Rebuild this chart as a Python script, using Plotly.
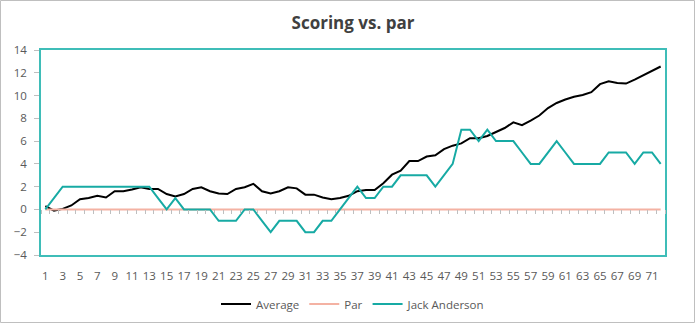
import plotly.graph_objects as go

holes = list(range(1, 73))
average = [0.3, -0.1, 0.05, 0.35, 0.9, 1.0, 1.2, 1.05, 1.6, 1.6,
           1.75, 1.95, 1.8, 1.8, 1.35, 1.15, 1.35, 1.8, 1.95, 1.6,
           1.4, 1.35, 1.8, 1.95, 2.25, 1.6, 1.4, 1.6, 1.95, 1.85,
           1.3, 1.3, 1.05, 0.9, 1.0, 1.2, 1.6, 1.7, 1.7, 2.3,
           3.05, 3.4, 4.25, 4.25, 4.65, 4.75, 5.3, 5.6, 5.8, 6.25,
           6.25, 6.45, 6.8, 7.15, 7.65, 7.4, 7.8, 8.25, 8.9, 9.35,
           9.65, 9.9, 10.05, 10.3, 11.0, 11.25, 11.1, 11.05, 11.4, 11.8,
           12.2, 12.55]
par = [0] * 72
jack = [0, 1, 2, 2, 2, 2, 2, 2, 2, 2,
        2, 2, 2, 1, 0, 1, 0, 0, 0, 0,
        -1, -1, -1, 0, 0, -1, -2, -1, -1, -1,
        -2, -2, -1, -1, 0, 1, 2, 1, 1, 2,
        2, 3, 3, 3, 3, 2, 3, 4, 7, 7,
        6, 7, 6, 6, 6, 5, 4, 4, 5, 6,
        5, 4, 4, 4, 4, 5, 5, 5, 4, 5,
        5, 4]
x_tick_labels = [str(v) for v in range(1, 72, 2)]
y_ticks = list(range(-4, 15, 2))

TEAL = "#17AAA4"
BORDER_TEAL = "#3FBDB8"
SALMON = "#F4B2A3"
FONT = "Open Sans"

fig = go.Figure()
fig.add_trace(go.Scatter(x=holes, y=average, name="Average", mode="lines",
                         line=dict(color="#000000", width=2)))
fig.add_trace(go.Scatter(x=holes, y=par, name="Par", mode="lines",
                         line=dict(color=SALMON, width=2)))
fig.add_trace(go.Scatter(x=holes, y=jack, name="Jack Anderson", mode="lines",
                         line=dict(color=TEAL, width=2)))
# helper trace for the category tick marks along zero
fig.add_trace(go.Scatter(x=holes, y=par, xaxis="x2", yaxis="y", mode="lines",
                         line=dict(width=0), opacity=0, showlegend=False,
                         hoverinfo="skip"))

W, H = 697, 325
L, R, T, B = 41, 32, 50, 70
pw, ph = W - L - R, H - T - B

fig.update_layout(
    width=W, height=H,
    margin=dict(l=L, r=R, t=T, b=B, autoexpand=False),
    paper_bgcolor="white", plot_bgcolor="white",
    font=dict(family=FONT, size=11, color="#595959"),
    title=dict(text="<b>Scoring vs. par</b>", x=0.5, xref="paper", xanchor="center",
               y=1 - 23 / H, yanchor="middle",
               font=dict(family=FONT, size=17, color="#404040")),
    showlegend=True,
    legend=dict(orientation="h", x=0.5, xanchor="center",
                yref="container", y=1 - 304 / H, yanchor="middle",
                font=dict(family=FONT, size=11.5, color="#595959"),
                bgcolor="rgba(0,0,0,0)", itemwidth=30, tracegroupgap=0),
    xaxis=dict(range=[0.5, 72.5], tickmode="array",
               tickvals=list(range(1, 72, 2)), ticktext=x_tick_labels,
               tickangle=0, ticks="outside", ticklen=9, tickcolor="rgba(0,0,0,0)",
               showgrid=False, zeroline=False, automargin=False,
               showline=True, linecolor=BORDER_TEAL, linewidth=1.5, mirror=True,
               tickfont=dict(family=FONT, size=11.5, color="#595959")),
    xaxis2=dict(range=[0.5, 72.5], overlaying="x", anchor="free",
                position=4 / 18, tickmode="array",
                tickvals=[v + 0.5 for v in range(0, 73)], automargin=False,
                ticks="outside", ticklen=4, tickcolor="#BFBFBF", tickwidth=1,
                showticklabels=False, showgrid=False, zeroline=False, showline=False),
    yaxis=dict(range=[-4, 14], tickmode="array", tickvals=y_ticks,
               ticks="outside", ticklen=5, tickcolor="#BFBFBF",
               showgrid=False, zeroline=False, automargin=False,
               showline=True, linecolor=BORDER_TEAL, linewidth=1.5, mirror=True,
               ticklabelstandoff=5,
               tickfont=dict(family=FONT, size=11.5, color="#595959")),
    shapes=[dict(type="rect", xref="paper", yref="paper",
                 x0=(0.5 - L) / pw, x1=(694.5 - L) / pw,
                 y0=(T + ph - 322.5) / ph, y1=(T + ph - 0.5) / ph,
                 line=dict(color="#BFBFBF", width=1), fillcolor="rgba(0,0,0,0)",
                 layer="below")],
)

fig.write_html("out.html")
